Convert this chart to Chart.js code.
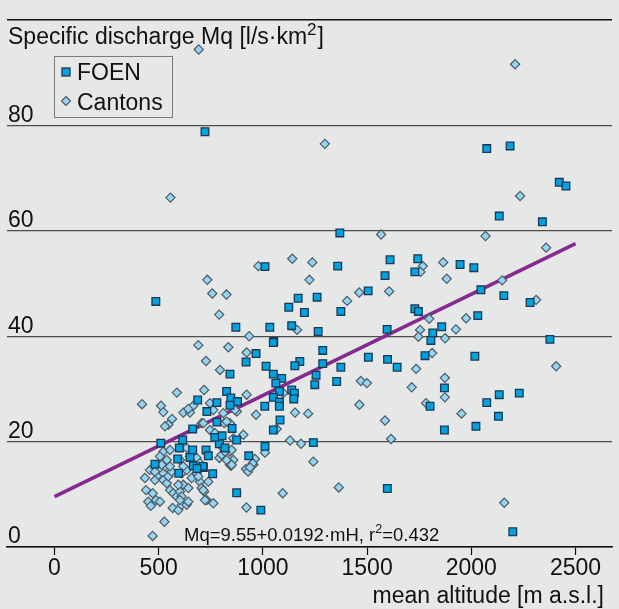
<!DOCTYPE html>
<html>
<head>
<meta charset="utf-8">
<script src="https://cdn.jsdelivr.net/npm/chart.js@4.4.0/dist/chart.umd.min.js"></script>
<style>
  html, body { margin: 0; padding: 0; background: #e6e7e7; }
  canvas { display: block; }
</style>
</head>
<body>
<canvas id="myChart" width="619" height="609"></canvas>
<script>
// FOEN stations: mean altitude [m a.s.l.] and specific discharge Mq [l/s*km2]
const foenAlt = [722, 1369, 1010, 1359, 1610, 1586, 1743, 1729, 1505, 486,
    1169, 1260, 1124, 1199, 1374, 1729, 1746, 870, 1033, 1138,
    1265, 1596, 1052, 967, 1287, 1506, 1598, 1815, 1806, 1858,
    1778, 1177, 2074, 2186, 2422, 2454, 2134, 2341, 1946, 2012,
    2046, 2156, 2282, 2031, 2377, 1644, 2017, 1871, 1802, 2074,
    2134, 2230, 2130, 2022, 1871, 2199, 1153, 1287, 1374, 1255,
    1249, 1354, 1050, 1090, 1062, 1138, 1151, 1148, 1079, 1050,
    1079, 1079, 1082, 1050, 1242, 1597, 932, 874, 990, 759,
    727, 738, 791, 714, 919, 842, 1015, 1050, 826, 846,
    878, 779, 842, 731, 1009, 779, 852, 769, 804, 874,
    1010, 687, 663, 615, 510, 599, 663, 650, 591, 482,
    666, 712, 596, 684, 818];
const foenMq = [78.8, 59.6, 53.2, 53.3, 54.5, 51.5, 54.7, 52.2, 48.6, 46.6,
    47.2, 47.4, 45.5, 44.5, 44.7, 45.2, 44.7, 41.7, 41.7, 42.0,
    40.9, 41.3, 39.0, 36.7, 37.3, 36.0, 35.6, 40.6, 39.2, 41.8,
    36.3, 35.2, 75.6, 76.1, 69.2, 68.5, 62.8, 61.7, 53.6, 53.0,
    48.8, 47.7, 46.4, 43.9, 39.4, 34.1, 36.2, 30.2, 26.7, 27.4,
    28.9, 29.2, 24.8, 22.9, 22.2, 2.9, 34.4, 34.8, 34.1, 32.6,
    30.8, 31.4, 32.8, 32.0, 31.1, 29.8, 29.2, 28.1, 29.5, 28.4,
    27.5, 26.7, 24.1, 22.2, 19.8, 11.1, 17.3, 10.3, 7.0, 13.9,
    18.4, 17.3, 19.6, 15.1, 35.1, 32.8, 34.3, 38.8, 29.5, 28.3,
    27.6, 27.4, 26.9, 25.7, 26.7, 23.7, 22.5, 20.8, 21.1, 20.3,
    19.1, 27.9, 22.4, 20.3, 19.7, 18.8, 18.4, 17.0, 16.7, 15.7,
    15.4, 15.3, 14.0, 14.9, 18.8];

// Cantonal stations
const cantonAlt = [692, 2210, 1297, 556, 2234, 1567, 2068, 2359, 733, 690,
    727, 757, 825, 790, 978, 1141, 1237, 1223, 1404, 1462,
    1606, 1767, 1756, 1865, 1882, 1164, 934, 834, 922, 1798,
    1754, 1746, 1874, 1812, 2148, 2311, 1975, 1926, 1735, 1873,
    1714, 1873, 1783, 1953, 1586, 2407, 2158, 1470, 1499, 1463,
    1615, 1154, 1217, 1130, 1183, 1242, 1364, 1095, 1098, 1066,
    921, 967, 1010, 922, 919, 929, 954, 962, 847, 858,
    875, 842, 814, 420, 511, 522, 587, 718, 564, 546,
    530, 618, 650, 666, 642, 706, 746, 770, 810, 826,
    800, 842, 791, 842, 434, 439, 450, 462, 471, 487,
    506, 527, 471, 482, 498, 522, 522, 539, 546, 562,
    530, 554, 570, 586, 602, 610, 618, 642, 594, 567,
    594, 610, 634, 642, 602, 610, 634, 658, 682, 698,
    706, 718, 730, 690, 458, 482, 522, 554, 506, 539,
    514, 554, 634, 650, 602, 682, 698, 618, 794, 746,
    762, 866, 714, 858, 906, 951, 938, 738, 714, 722,
    762, 802, 826, 850, 850, 818];
const cantonMq = [94.4, 91.6, 76.5, 66.3, 66.6, 59.3, 59.0, 56.8, 50.7, 38.3,
    35.3, 48.1, 47.9, 44.1, 53.3, 54.7, 54.0, 50.7, 46.7, 48.3,
    48.5, 53.3, 52.2, 54.0, 50.9, 41.2, 40.0, 37.9, 36.9, 43.3,
    41.2, 39.9, 39.6, 36.8, 50.6, 46.9, 43.4, 41.3, 33.8, 32.1,
    30.3, 28.4, 27.3, 25.3, 24.0, 34.3, 8.4, 31.5, 31.1, 27.0,
    20.5, 25.5, 25.3, 20.2, 19.6, 16.2, 11.3, 10.2, 29.2, 22.4,
    7.5, 25.1, 17.9, 28.9, 14.8, 14.3, 15.6, 16.7, 15.4, 16.5,
    25.7, 23.5, 23.5, 27.1, 26.8, 25.6, 29.3, 29.8, 24.3, 23.2,
    22.9, 25.5, 25.5, 26.8, 26.2, 23.5, 22.2, 21.6, 25.4, 23.8,
    19.1, 18.1, 16.9, 15.6, 13.1, 10.8, 8.6, 7.8, 10.2, 8.9,
    8.6, 4.8, 2.1, 12.7, 13.7, 14.0, 12.7, 12.1, 13.4, 14.3,
    15.3, 10.8, 10.2, 9.6, 10.5, 9.6, 11.8, 11.2, 11.8, 7.4,
    7.0, 8.0, 8.0, 8.6, 8.9, 14.0, 14.6, 13.1, 14.0, 12.4,
    11.2, 10.5, 8.9, 13.4, 14.6, 14.3, 18.1, 18.4, 17.2, 16.5,
    15.6, 15.3, 18.8, 17.2, 16.5, 16.9, 15.9, 15.3, 33.6, 27.3,
    26.0, 26.0, 23.5, 20.6, 21.3, 15.9, 15.1, 12.4, 10.8, 8.9,
    8.3, 17.5, 16.5, 15.6, 18.4, 18.1];

// regression line end points (Mq = 9.55 + 0.0192 * mH)
const fitAlt = [0, 2500];
const fitMq = [9.55, 57.55];

const altTicks = [0, 500, 1000, 1500, 2000, 2500];
const mqTicks = [0, 20, 40, 60, 80, 100];

const FONT = "'Liberation Sans', Arial, Helvetica, sans-serif";
const FOEN_FILL = '#00a3df';
const FOEN_EDGE = '#1b3954';
const CANTON_FILL = '#93d6f4';
const CANTON_EDGE = '#4f5a62';

function toPoints(xs, ys) {
    return xs.map((x, i) => ({ x: x, y: ys[i] }));
}

// texts and legend drawn on top of the plot
const overlay = {
    id: 'overlay',
    afterDraw(chart) {
        const ctx = chart.ctx;
        ctx.save();
        ctx.fillStyle = '#111';
        ctx.textBaseline = 'alphabetic';
        ctx.textAlign = 'left';

        // y axis title
        ctx.font = '23px ' + FONT;
        const t1 = 'Specific discharge Mq [l/s\u00b7km';
        ctx.fillText(t1, 8, 44);
        let x = 8 + ctx.measureText(t1).width;
        ctx.font = '17px ' + FONT;
        ctx.fillText('2', x, 35);
        x += ctx.measureText('2').width;
        ctx.font = '23px ' + FONT;
        ctx.fillText(']', x + 1, 44);

        // legend
        ctx.strokeStyle = '#7a7a7a';
        ctx.lineWidth = 1;
        ctx.strokeRect(54.5, 56.5, 118, 61);
        ctx.fillStyle = FOEN_FILL;
        ctx.strokeStyle = FOEN_EDGE;
        ctx.lineWidth = 1.3;
        ctx.fillRect(62, 68, 8, 8);
        ctx.strokeRect(62, 68, 8, 8);
        ctx.fillStyle = CANTON_FILL;
        ctx.strokeStyle = CANTON_EDGE;
        ctx.lineWidth = 1.2;
        ctx.beginPath();
        ctx.moveTo(66, 96.5);
        ctx.lineTo(70.5, 101);
        ctx.lineTo(66, 105.5);
        ctx.lineTo(61.5, 101);
        ctx.closePath();
        ctx.fill();
        ctx.stroke();
        ctx.fillStyle = '#111';
        ctx.font = '23px ' + FONT;
        ctx.fillText('FOEN', 77, 80);
        ctx.fillText('Cantons', 77, 110);

        // regression equation
        ctx.font = '18.5px ' + FONT;
        const e1 = 'Mq=9.55+0.0192\u00b7mH, r';
        x = 184;
        ctx.fillText(e1, x, 541);
        x += ctx.measureText(e1).width;
        ctx.font = '12.5px ' + FONT;
        ctx.fillText('2', x, 533);
        x += ctx.measureText('2').width;
        ctx.font = '18.5px ' + FONT;
        ctx.fillText('=0.432', x, 541);

        // x axis title
        ctx.textAlign = 'right';
        ctx.font = '23px ' + FONT;
        ctx.fillText('mean altitude [m a.s.l.]', 604, 603);
        ctx.restore();
    }
};

const ctx = document.getElementById('myChart').getContext('2d');
const myChart = new Chart(ctx, {
    type: 'scatter',
    data: {
        datasets: [{
            label: 'FOEN',
            data: toPoints(foenAlt, foenMq),
            pointStyle: 'rect',
            pointRadius: 5.4,
            backgroundColor: FOEN_FILL,
            borderColor: FOEN_EDGE,
            borderWidth: 1.3,
            order: 0
        }, {
            label: 'Cantons',
            data: toPoints(cantonAlt, cantonMq),
            pointStyle: 'rectRot',
            pointRadius: 4.6,
            backgroundColor: CANTON_FILL,
            borderColor: CANTON_EDGE,
            borderWidth: 1.2,
            order: 1
        }, {
            label: 'fit',
            data: toPoints(fitAlt, fitMq),
            showLine: true,
            pointRadius: 0,
            borderColor: '#852a8e',
            borderWidth: 3.6,
            order: 2
        }]
    },
    options: {
        responsive: false,
        animation: false,
        layout: { padding: { left: 7, right: 7, top: 20, bottom: 0 } },
        plugins: {
            legend: { display: false },
            tooltip: { enabled: false }
        },
        scales: {
            x: {
                type: 'linear',
                min: -228,
                max: 2675,
                afterBuildTicks: (axis) => { axis.ticks = altTicks.map(v => ({ value: v })); },
                afterFit: (axis) => { axis.height = 62; },
                grid: {
                    drawOnChartArea: false,
                    drawTicks: true,
                    tickLength: 8,
                    tickColor: '#111',
                    tickWidth: 1.2
                },
                border: { display: true, color: '#111', width: 1.5 },
                ticks: {
                    color: '#111',
                    padding: 0,
                    maxRotation: 0,
                    font: { family: FONT, size: 23 },
                    callback: (v) => String(v)
                }
            },
            y: {
                type: 'linear',
                min: 0,
                max: 100,
                afterBuildTicks: (axis) => { axis.ticks = mqTicks.map(v => ({ value: v })); },
                afterFit: (axis) => { axis.width = 0; },
                grid: {
                    drawTicks: false,
                    color: (c) => (c.tick.value === 100 || c.tick.value === 0) ? '#111' : '#4d4d4d',
                    lineWidth: (c) => c.tick.value === 100 ? 1.6 : 1.2
                },
                border: { display: false },
                ticks: {
                    mirror: true,
                    padding: 1,
                    labelOffset: -10,
                    color: '#111',
                    font: { family: FONT, size: 23 },
                    callback: (v) => v === 100 ? '' : String(v)
                }
            }
        }
    },
    plugins: [overlay]
});
</script>
</body>
</html>
